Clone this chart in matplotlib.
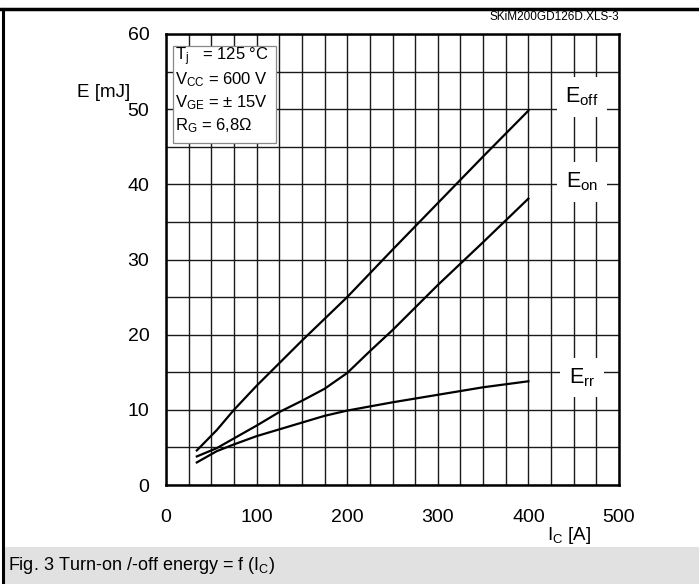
import matplotlib
matplotlib.use("Agg")
import matplotlib.pyplot as plt
from matplotlib.lines import Line2D
from matplotlib.patches import Rectangle
from matplotlib.ticker import MultipleLocator

plt.rcParams['font.family'] = ['Liberation Sans', 'DejaVu Sans']
plt.rcParams['mathtext.fontset'] = 'custom'
plt.rcParams['mathtext.rm'] = 'Liberation Sans'
plt.rcParams['mathtext.it'] = 'Liberation Sans'
plt.rcParams['mathtext.default'] = 'regular'

# Data
ic_off = [34, 56, 75, 100, 125, 150, 175, 200, 250, 300, 350, 400]
e_off = [4.6, 7.3, 10.0, 13.2, 16.2, 19.2, 22.1, 25.0, 31.3, 37.5, 43.7, 49.8]

ic_on = [34, 56, 75, 100, 125, 150, 175, 200, 225, 250, 300, 350, 400]
e_on = [3.8, 4.9, 6.2, 7.9, 9.7, 11.2, 12.8, 14.9, 17.8, 20.6, 26.6, 32.3, 38.1]

ic_rr = [34, 56, 75, 100, 125, 150, 175, 200, 250, 300, 350, 400]
e_rr = [3.0, 4.5, 5.4, 6.5, 7.4, 8.3, 9.2, 9.9, 11.0, 12.0, 13.0, 13.8]

x_ticks = [0, 100, 200, 300, 400, 500]
y_ticks = [0, 10, 20, 30, 40, 50, 60]

conditions = [r"T$_j$   = 125 °C", r"V$_{CC}$ = 600 V", r"V$_{GE}$ = ± 15V", r"R$_G$ = 6,8Ω"]
curve_labels = [r"E$_{off}$", r"E$_{on}$", r"E$_{rr}$"]
label_y = [51.6, 40.3, 14.3]

W, H = 699, 584
fig = plt.figure(figsize=(W / 100, H / 100), dpi=100)
ax = fig.add_axes([166 / W, 1 - 485 / H, 453 / W, 451 / H])

ax.set_xlim(0, 500)
ax.set_ylim(0, 60)
ax.set_xticks(x_ticks)
ax.set_yticks(y_ticks)
ax.xaxis.set_minor_locator(MultipleLocator(25))
ax.yaxis.set_minor_locator(MultipleLocator(5))
ax.grid(True, which='both', color='#1a1a1a', linewidth=1.0, zorder=1)
ax.set_axisbelow(True)
ax.tick_params(which='both', length=0, labelsize=14)
ax.tick_params(axis='x', pad=17)
ax.tick_params(axis='y', pad=12)
for s in ax.spines.values():
    s.set_linewidth(1.8)
    s.set_zorder(5)

ax.plot(ic_off, e_off, color='black', lw=1.6, zorder=3)
ax.plot(ic_on, e_on, color='black', lw=1.6, zorder=3)
ax.plot(ic_rr, e_rr, color='black', lw=1.6, zorder=3)

for lab, yv in zip(curve_labels, label_y):
    ax.text(459, yv, lab, fontsize=15.5, ha='center', va='center', zorder=4,
            bbox=dict(boxstyle='square,pad=0.4', facecolor='white', edgecolor='none'))

# conditions box
ax.add_patch(Rectangle((0.0155, 0.758), 0.227, 0.215, transform=ax.transAxes,
                       facecolor='white', edgecolor='#888888', lw=0.9, zorder=4))
for i, t in enumerate(conditions):
    ax.text(0.02, 0.949 - i * 0.051, t, transform=ax.transAxes, fontsize=12,
            ha='left', va='center', zorder=5)

ax.text(-0.079, 0.871, "E [mJ]", transform=ax.transAxes, fontsize=13.5,
        ha='right', va='center')
ax.text(0.89, -0.112, r"I$_C$ [A]", transform=ax.transAxes, fontsize=13.5,
        ha='center', va='center')

# frame and caption
fig.add_artist(Rectangle((3 / W, 0), 1 - 3 / W, 37 / H, transform=fig.transFigure,
                         facecolor='#e1e1e1', edgecolor='none'))
fig.add_artist(Line2D([0, 1], [1 - 8.5 / H, 1 - 8.5 / H], transform=fig.transFigure,
                      color='black', lw=2.5))
fig.add_artist(Line2D([2.5 / W, 2.5 / W], [0, 1 - 8.5 / H], transform=fig.transFigure,
                      color='black', lw=2.2))
fig.text(8 / W, 19 / H, r"Fig. 3 Turn-on /-off energy = f (I$_C$)", fontsize=13,
         ha='left', va='center')
fig.text(619 / W, 1 - 17 / H, "SKiM200GD126D.XLS-3", fontsize=8.5,
         ha='right', va='center')

fig.savefig("out.png", dpi=100)
